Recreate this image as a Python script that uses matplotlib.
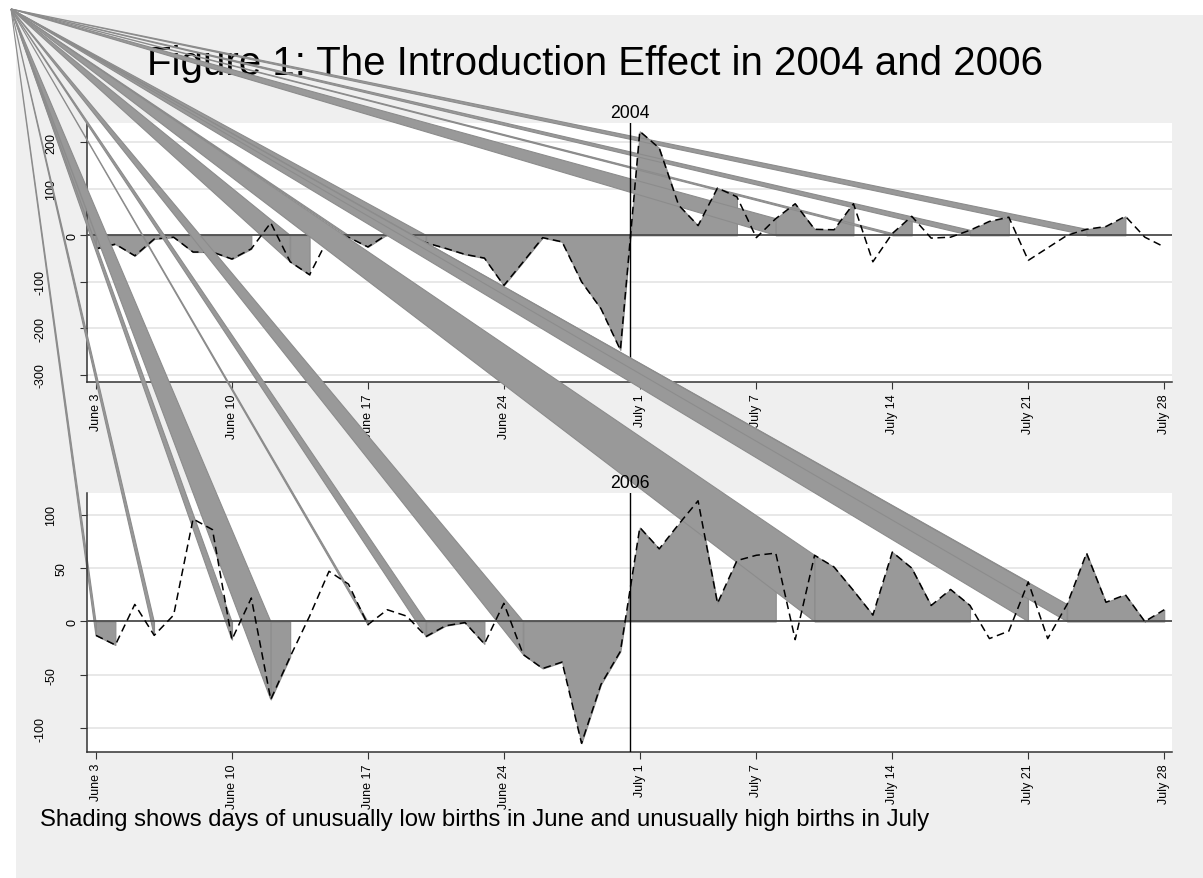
import matplotlib.pyplot as plt
import numpy as np
from matplotlib.patches import Polygon, Rectangle
from matplotlib.transforms import blended_transform_factory

plt.rcParams['font.family'] = ['Liberation Sans', 'DejaVu Sans']

W, H = 1203, 879

# day 0 = June 3, day 55 = July 28
days = np.arange(56)
tick_days = [0, 7, 14, 21, 28, 34, 41, 48, 55]
tick_labels = ['June 3', 'June 10', 'June 17', 'June 24', 'July 1',
               'July 7', 'July 14', 'July 21', 'July 28']

births_2004 = [-29, -19, -44, -8, -4, -36, -36, -51, -29, 27,
               -57, -85, -3, -4, -25, 2, 0, -16, -28, -41,
               -49, -108, -57, -5, -14, -100, -158, -247, 224, 188,
               65, 21, 102, 83, -5, 36, 68, 13, 12, 68,
               -57, 4, 41, -6, -4, 11, 30, 39, -54, -27,
               0, 13, 19, 41, -4, -25]
births_2006 = [-13, -22, 16, -13, 6, 96, 86, -17, 22, -73,
               -33, 5, 47, 35, -3, 11, 5, -14, -4, -1,
               -21, 17, -31, -44, -38, -114, -59, -28, 88, 68,
               91, 113, 17, 57, 62, 64, -17, 62, 51, 29,
               6, 65, 50, 15, 30, 15, -16, -9, 37, -16,
               16, 64, 18, 25, 0, 11]

# shaded runs of days (first day, last day)
shade_2004 = [(0, 8), (10, 11), (13, 15), (17, 33), (35, 39), (41, 42),
              (45, 47), (51, 53)]
shade_2006 = [(0, 1), (3, 3), (7, 7), (9, 10), (14, 14), (17, 20),
              (22, 35), (37, 45), (48, 48), (50, 55)]

yticks_2004 = [-300, -200, -100, 0, 100, 200]
yticks_2006 = [-100, -50, 0, 50, 100]

fill = '#999999'
edge = '#8c8c8c'
origin = (11 / W, 1 - 10 / H)

fig = plt.figure(figsize=(W / 100, H / 100), dpi=100, facecolor='white')
fig.add_artist(Rectangle((16 / W, 0), 1, 1 - 16 / H, transform=fig.transFigure,
                         facecolor='#efefef', edgecolor='none', zorder=-2))

fig.text(595 / W, 1 - 75 / H, 'Figure 1: The Introduction Effect in 2004 and 2006',
         fontsize=29, ha='center', va='baseline', zorder=-1)
fig.text(40 / W, 1 - 826 / H,
         'Shading shows days of unusually low births in June and unusually high births in July',
         fontsize=17.2, ha='left', va='baseline', zorder=-1)


def panel(top, year, y, pieces, yticks, ylim):
    y = np.array(y, dtype=float)
    ax = fig.add_axes([87 / W, 1 - (top + 259) / H, 1085 / W, 259 / H])
    ax.set_facecolor('white')
    ax.set_xlim(-0.46, 55.4)
    ax.set_ylim(*ylim)
    for s in ['top', 'right']:
        ax.spines[s].set_visible(False)
    for s in ['left', 'bottom']:
        ax.spines[s].set_color('#333333')
        ax.spines[s].set_linewidth(1.1)

    ax.set_yticks(yticks)
    ax.yaxis.grid(True, color='#e8e8e8', lw=1.4)
    ax.set_axisbelow(True)
    ax.tick_params(axis='y', labelleft=False, direction='out', length=5,
                   color='#333333')
    ax.set_xticks(tick_days)
    ax.set_xticklabels(tick_labels, rotation=90, fontsize=9)
    ax.tick_params(axis='x', direction='out', length=5, pad=3, color='#333333')

    tr = blended_transform_factory(fig.transFigure, ax.transData)
    for t in yticks:
        s = str(t)
        ax.text((83 - 10.5 * len(s)) / W, t, s, transform=tr, rotation=90,
                ha='center', va='center', fontsize=9, clip_on=False)

    ax.set_title(year, fontsize=12.7, pad=4)

    # shaded runs, each with its stray wedge back to the page corner
    for a, b in pieces:
        xs = days[a:b + 1]
        ys = y[a:b + 1]
        ax.fill_between(xs, 0, ys, facecolor=fill, edgecolor=edge, lw=0.8,
                        zorder=2)
        pts = ax.transData.transform([(xs[0], ys[0]), (xs[0], 0)])
        pts = fig.transFigure.inverted().transform(pts)
        ray = Polygon([origin, pts[0], pts[1]], closed=True,
                      transform=fig.transFigure, facecolor=fill,
                      edgecolor=edge, lw=0.8, zorder=2)
        ax.add_patch(ray)
        ray.set_clip_on(False)

    ax.axhline(0, color='#4d4d4d', lw=1.3, zorder=3)
    ax.axvline(27.5, color='black', lw=1.0, zorder=3)
    ax.plot(days, y, color='black', lw=1.1, linestyle=(0, (5, 3)), zorder=4)
    return ax


panel(124, '2004', births_2004, shade_2004, yticks_2004, (-316, 242))
panel(494, '2006', births_2006, shade_2006, yticks_2006, (-122.2, 120.3))

fig.savefig('out.png', dpi=100)
